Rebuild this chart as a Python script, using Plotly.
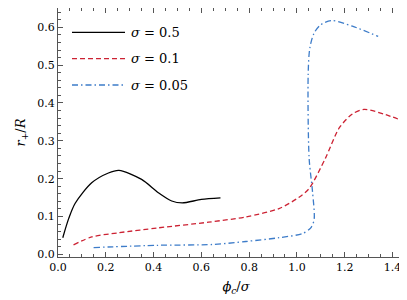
import plotly.graph_objects as go

# sigma = 0.5 (black, solid)
x_s05 = [0.02, 0.045, 0.072, 0.141, 0.211, 0.255, 0.35, 0.42, 0.476, 0.52, 0.60, 0.68]
y_s05 = [0.044, 0.095, 0.135, 0.189, 0.215, 0.222, 0.198, 0.163, 0.141, 0.136, 0.145, 0.149]

# sigma = 0.1 (red, dashed)
x_s01 = [0.065, 0.141, 0.253, 0.42, 0.63, 0.786, 0.925, 1.009, 1.051, 1.12, 1.177, 1.232, 1.281, 1.372, 1.49]
y_s01 = [0.025, 0.046, 0.057, 0.070, 0.085, 0.099, 0.121, 0.151, 0.174, 0.255, 0.334, 0.371, 0.383, 0.369, 0.341]

# sigma = 0.05 (blue, dash-dot)
x_s005 = [0.149, 0.42, 0.646, 0.786, 0.925, 1.023, 1.058, 1.072, 1.065, 1.051, 1.047, 1.054, 1.072, 1.10, 1.146, 1.232, 1.34]
y_s005 = [0.018, 0.024, 0.026, 0.034, 0.044, 0.055, 0.070, 0.092, 0.167, 0.255, 0.475, 0.545, 0.585, 0.607, 0.618, 0.603, 0.576]

labels = ["<i>σ</i> = 0.5", "<i>σ</i> = 0.1", "<i>σ</i> = 0.05"]
colors = ["#000000", "#cc2233", "#3d7cc9"]
dashes = ["solid", "5px,3px", "6px,3px,1.5px,3px"]

SERIF = "DejaVu Serif"

fig = go.Figure()
for xs, ys, c, d, n in [(x_s05, y_s05, colors[0], dashes[0], labels[0]),
                        (x_s01, y_s01, colors[1], dashes[1], labels[1]),
                        (x_s005, y_s005, colors[2], dashes[2], labels[2])]:
    fig.add_trace(go.Scatter(x=xs, y=ys, mode="lines", name=n,
                             line=dict(color=c, width=1.3, dash=d, shape="spline", smoothing=0.8),
                             showlegend=False))

# manual legend
L, R_, T, B = 50, 406, 0, 249
def px(x): return (x - L) / (R_ - L)
def py(y): return 1 - (y - T) / (B - T)
leg_y = [24.3, 50.7, 77.0]
for i in range(3):
    fig.add_shape(type="line", xref="paper", yref="paper",
                  x0=px(64), x1=px(117), y0=py(leg_y[i]), y1=py(leg_y[i]),
                  line=dict(color=colors[i], width=1.3, dash=dashes[i]))
    fig.add_annotation(xref="paper", yref="paper", x=px(121), y=py(leg_y[i]),
                       text=labels[i], showarrow=False, xanchor="left", yanchor="middle",
                       font=dict(family=SERIF, size=13, color="#000"))

axis_common = dict(showgrid=False, zeroline=False, showline=True, linecolor="#555", linewidth=1,
                   mirror="allticks", ticks="inside", ticklen=5, tickcolor="#555",
                   tickfont=dict(family=SERIF, size=11, color="#000"))

fig.update_xaxes(range=[0, 1.49], dtick=0.2, tick0=0, tickformat=".1f",
                 minor=dict(dtick=0.05, ticks="inside", ticklen=3, tickcolor="#555"),
                 title=dict(text="<i>ϕ</i><sub><i>c</i></sub>/<i>σ</i>", standoff=8,
                            font=dict(family=SERIF, size=13, color="#000")),
                 **axis_common)
fig.update_yaxes(range=[-0.007, 0.651], dtick=0.1, tick0=0, tickformat=".1f",
                 minor=dict(dtick=0.02, ticks="inside", ticklen=3, tickcolor="#555"),
                 title=dict(text="<i>r</i><sub>+</sub>/<i>R</i>", standoff=8,
                            font=dict(family=SERIF, size=13, color="#000")),
                 **axis_common)

fig.update_layout(width=407, height=300, margin=dict(l=50, r=1, t=0, b=51),
                  font=dict(family=SERIF),
                  plot_bgcolor="white", paper_bgcolor="white")
fig.write_html("out.html")
